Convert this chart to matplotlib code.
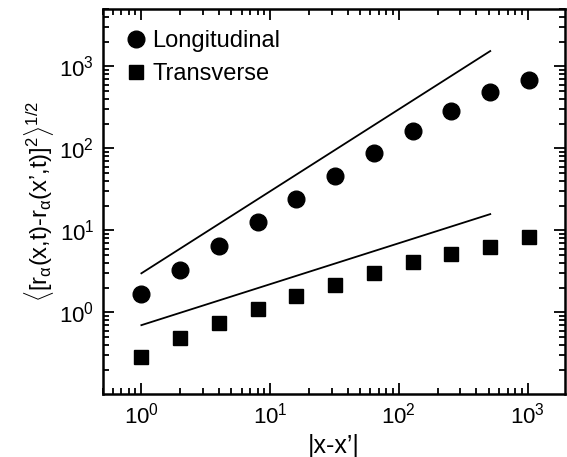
import matplotlib
matplotlib.use("Agg")
import matplotlib.pyplot as plt
from matplotlib.ticker import LogLocator, NullFormatter

plt.rcParams['font.family'] = ['Liberation Sans', 'DejaVu Sans']
plt.rcParams['mathtext.fontset'] = 'custom'
plt.rcParams['mathtext.rm'] = 'Liberation Sans'
plt.rcParams['mathtext.it'] = 'Liberation Sans:italic'
plt.rcParams['mathtext.bf'] = 'Liberation Sans:bold'

# separation |x-x'|
sep = [1, 2, 4, 8, 16, 32, 64, 128, 256, 512, 1024]
longitudinal = [1.68, 3.3, 6.4, 12.6, 24.2, 45.8, 86.7, 161, 285, 491, 675]
transverse = [0.29, 0.487, 0.75, 1.1, 1.6, 2.18, 3.03, 4.08, 5.16, 6.22, 8.4]

# guide lines (slope 1 and slope 1/2)
guide_x = [1, 512]
guide_long = [3.0, 1536]
guide_trans = [0.7, 15.8]

fig = plt.figure(figsize=(5.67, 4.57), dpi=100)
ax = fig.add_axes([0.181, 0.1368, 0.8155, 0.8435])

ax.plot(sep, longitudinal, 'o', color='black', markersize=12, label='Longitudinal')
ax.plot(sep, transverse, 's', color='black', markersize=10.5, label='Transverse')
ax.plot(guide_x, guide_long, '-', color='black', lw=1.3)
ax.plot(guide_x, guide_trans, '-', color='black', lw=1.3)

ax.set_xscale('log')
ax.set_yscale('log')
ax.set_xlim(0.5, 1950)
ax.set_ylim(0.1, 5000)

ax.xaxis.set_major_locator(LogLocator(base=10, numticks=10))
ax.yaxis.set_major_locator(LogLocator(base=10, numticks=10))
ax.xaxis.set_minor_locator(LogLocator(base=10, subs=range(2, 10), numticks=20))
ax.yaxis.set_minor_locator(LogLocator(base=10, subs=range(2, 10), numticks=20))
ax.xaxis.set_minor_formatter(NullFormatter())
ax.yaxis.set_minor_formatter(NullFormatter())
ax.set_yticks([1, 10, 100, 1000])

ax.tick_params(which='both', direction='in', top=True, right=True, labelsize=16, width=1.3)
ax.tick_params(which='major', length=8, pad=6)
ax.tick_params(which='minor', length=4)
for s in ax.spines.values():
    s.set_linewidth(1.8)

ax.set_xlabel('|x-x’|', fontsize=18, labelpad=4)
ax.set_ylabel(r'$\langle$[r$_\mathrm{\alpha}$(x,t)-r$_\mathrm{\alpha}$(x’,t)]$^2$$\rangle^{1/2}$',
              fontsize=17, labelpad=2)

ax.legend(loc='upper left', frameon=False, fontsize=17, handletextpad=0.2,
          handlelength=1.0, borderaxespad=0.5, labelspacing=0.45)

fig.savefig('out.png', dpi=100)
